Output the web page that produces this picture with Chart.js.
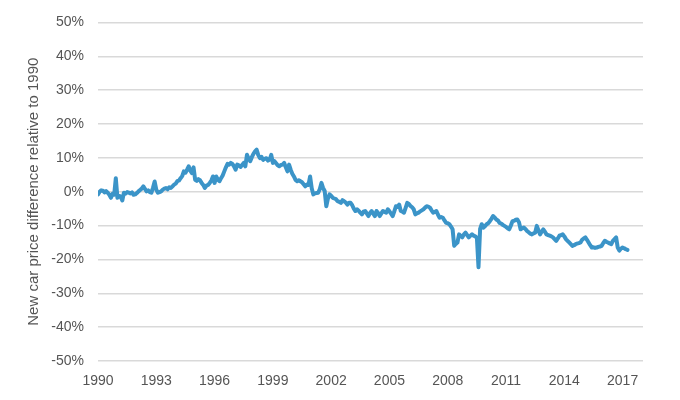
<!DOCTYPE html>
<html>
<head>
<meta charset="utf-8">
<script src="https://cdn.jsdelivr.net/npm/chart.js@4"></script>
<style>
  body { margin: 0; background: #fff; }
</style>
</head>
<body>
<canvas id="myChart" width="680" height="400"></canvas>
<script>
// Monthly new car price change vs. 1990, in percent (Jan 1990 onwards)
let startYear = 1990;
let monthlyValues = [
    -0.8, 0.0, 0.4, 0.3, -0.2, 0.2, -0.3, -0.9, -1.8, -0.6, -0.9, 4.0,          // 1990
    -1.8, -1.2, -1.5, -2.6, -0.3, -0.6, -0.1, -0.3, -0.5, -0.2, -0.9, -0.8,    // 1991
    -0.4, 0.1, 0.5, 0.9, 1.6, 0.8, 0.1, 0.4, -0.1, -0.3, 1.2, 3.0,             // 1992
    0.6, -0.3, -0.1, 0.1, 0.6, 0.9, 1.1, 0.7, 1.3, 1.1, 1.6, 2.1,              // 1993
    2.4, 3.1, 3.3, 4.0, 4.6, 6.0, 5.6, 6.5, 7.5, 6.2, 5.5, 7.2,                // 1994
    3.5, 3.2, 3.7, 3.4, 2.6, 2.0, 1.1, 1.8, 2.0, 2.6, 3.3, 4.5,                // 1995
    2.6, 4.5, 3.6, 3.1, 4.0, 4.8, 6.0, 7.2, 8.2, 8.0, 8.5, 8.2,                // 1996
    7.5, 6.5, 8.0, 7.8, 7.3, 7.9, 8.5, 7.5, 10.9, 9.8, 9.0, 10.2,              // 1997
    11.2, 11.9, 12.4, 10.8, 9.9, 10.3, 9.4, 9.7, 9.9, 9.2, 9.5, 10.9,          // 1998
    8.5, 9.0, 8.4, 7.8, 7.5, 7.9, 8.0, 8.5, 7.2, 6.0, 8.0, 6.5,                // 1999
    5.3, 4.5, 3.5, 3.1, 3.4, 3.1, 2.8, 2.2, 1.6, 2.1, 2.0, 4.5,                // 2000
    1.0, -0.8, -0.5, -0.4, -0.3, 0.8, 2.6, 1.1, 0.2, -4.3, -2.0, -0.8,         // 2001
    -1.2, -1.8, -2.0, -2.2, -2.8, -3.0, -3.3, -2.5, -2.8, -3.2, -3.8, -3.3,    // 2002
    -3.3, -4.0, -5.0, -5.7, -5.2, -5.6, -6.2, -6.7, -5.9, -5.7, -6.4, -7.2,    // 2003
    -6.3, -5.7, -6.5, -7.2, -5.7, -6.3, -7.2, -6.4, -5.7, -6.0, -6.2, -5.2,    // 2004
    -5.8, -6.5, -7.2, -5.8, -4.3, -4.5, -3.8, -5.7, -5.9, -6.2, -4.8, -3.3,    // 2005
    -3.6, -4.2, -4.6, -5.2, -6.7, -6.4, -6.2, -5.8, -5.5, -5.2, -4.7, -4.3,    // 2006
    -4.4, -4.7, -5.5, -6.2, -6.0, -5.7, -6.8, -7.7, -7.5, -7.7, -8.5, -9.2,    // 2007
    -9.3, -9.6, -10.3, -11.1, -16.0, -15.4, -15.0, -12.6, -13.0, -13.5, -12.6, -12.1, // 2008
    -12.8, -13.5, -13.0, -12.6, -13.0, -13.2, -13.6, -22.3, -11.0, -9.6, -10.6, -10.2, // 2009
    -9.6, -9.3, -8.7, -8.0, -7.2, -7.6, -8.2, -8.5, -9.2, -9.4, -9.8, -10.1,   // 2010
    -10.4, -10.8, -11.1, -10.0, -8.7, -8.6, -8.3, -8.2, -9.0, -11.1, -10.8, -10.6, // 2011
    -11.0, -11.6, -12.0, -12.4, -12.6, -12.3, -12.1, -10.1, -11.4, -12.6, -11.8, -11.1, // 2012
    -11.8, -12.6, -12.8, -13.0, -13.2, -13.5, -14.0, -14.5, -13.8, -13.0, -12.8, -12.6, // 2013
    -13.2, -14.0, -14.5, -15.0, -15.5, -16.0, -15.8, -15.5, -15.3, -15.2, -15.0, -14.2, // 2014
    -13.8, -13.5, -14.2, -15.0, -15.8, -16.5, -16.4, -16.6, -16.5, -16.3, -16.2, -16.0, // 2015
    -15.2, -14.5, -14.8, -15.0, -15.3, -15.5, -14.5, -14.0, -13.5, -16.5, -17.4, -16.8, // 2016
    -16.5, -16.7, -17.0, -17.2                                                  // 2017
];

// Axis ticks
let tickYears = [1990, 1993, 1996, 1999, 2002, 2005, 2008, 2011, 2014, 2017];
let tickPercents = [-50, -40, -30, -20, -10, 0, 10, 20, 30, 40, 50];

let textColor = '#555555';
let fontFamily = '"Liberation Sans", Arial, Helvetica, sans-serif';

function createChart() {
    let points = monthlyValues.map(function (v, i) {
        return { x: startYear + i / 12, y: v };
    });

    let ctx = document.getElementById('myChart').getContext('2d');
    let myChart = new Chart(ctx, {
        type: 'line',
        data: {
            datasets: [{
                data: points,
                borderColor: '#3b94c8',
                borderWidth: 4,
                borderJoinStyle: 'round',
                borderCapStyle: 'round',
                pointRadius: 0,
                tension: 0,
                fill: false
            }]
        },
        options: {
            responsive: false,
            animation: false,
            layout: {
                padding: { top: 21, right: 37, left: 0, bottom: 0 }
            },
            plugins: {
                legend: { display: false },
                tooltip: { enabled: false }
            },
            scales: {
                x: {
                    type: 'linear',
                    min: 1990,
                    max: 2018.05,
                    grid: { display: false, drawTicks: false },
                    border: { display: false },
                    afterBuildTicks: function (scale) {
                        scale.ticks = tickYears.map(function (v) { return { value: v }; });
                    },
                    afterFit: function (scale) {
                        scale.height = 39;
                    },
                    ticks: {
                        padding: 12,
                        maxRotation: 0,
                        autoSkip: false,
                        color: textColor,
                        font: { family: fontFamily, size: 14 },
                        callback: function (value) { return String(value); }
                    }
                },
                y: {
                    min: -50,
                    max: 50,
                    grid: {
                        color: '#d9d9d9',
                        lineWidth: 1.5,
                        drawTicks: false
                    },
                    border: { display: false },
                    afterBuildTicks: function (scale) {
                        scale.ticks = tickPercents.map(function (v) { return { value: v }; });
                    },
                    afterFit: function (scale) {
                        scale.width = 98;
                    },
                    ticks: {
                        padding: 14,
                        color: textColor,
                        font: { family: fontFamily, size: 14 },
                        callback: function (value) { return value + '%'; }
                    },
                    title: {
                        display: true,
                        text: 'New car price difference relative to 1990',
                        color: textColor,
                        padding: { top: 25, bottom: 0 },
                        font: { family: fontFamily, size: 15 }
                    }
                }
            }
        }
    });
}

createChart();
</script>
</body>
</html>
